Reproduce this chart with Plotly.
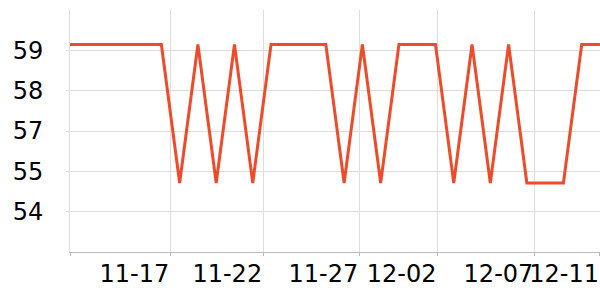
import plotly.graph_objects as go

# Data
dates = [
    "2023-11-12", "2023-11-13", "2023-11-14", "2023-11-15", "2023-11-16",
    "2023-11-17", "2023-11-18", "2023-11-19", "2023-11-20", "2023-11-21",
    "2023-11-22", "2023-11-23", "2023-11-24", "2023-11-25", "2023-11-26",
    "2023-11-27", "2023-11-28", "2023-11-29", "2023-11-30", "2023-12-01",
    "2023-12-02", "2023-12-03", "2023-12-04", "2023-12-05", "2023-12-06",
    "2023-12-07", "2023-12-08", "2023-12-09", "2023-12-10", "2023-12-11",
]
values = [
    59.18, 59.18, 59.18, 59.18, 59.18, 59.18, 54.89, 59.18, 54.89, 59.18,
    54.89, 59.18, 59.18, 59.18, 59.18, 54.89, 59.18, 54.89, 59.18, 59.18,
    59.18, 54.89, 59.18, 54.89, 59.18, 54.89, 54.89, 54.89, 59.18, 59.18,
]

x_tickvals = [
    "2023-11-12 00:00", "2023-11-17 11:46", "2023-11-22 13:41",
    "2023-11-27 19:55", "2023-12-02 02:36", "2023-12-07 09:50",
    "2023-12-11 00:00",
]
x_ticktext = ["", "11-17", "11-22", "11-27", "12-02", "12-07", "12-11"]

y_tickvals = [54, 55.25, 56.5, 57.75, 59]
y_ticktext = ["54", "55", "57", "58", "59"]

fig = go.Figure()
fig.add_trace(go.Scatter(
    x=dates, y=values, mode="lines",
    line=dict(color="#ee4b2b", width=3),
    showlegend=False,
))

fig.update_layout(
    width=600, height=300,
    margin=dict(l=70, r=0, t=10, b=48),
    paper_bgcolor="white", plot_bgcolor="white",
    font=dict(family="DejaVu Sans", size=24, color="black"),
)
fig.update_xaxes(
    type="date",
    range=["2023-11-12", "2023-12-11 00:03"],
    tickmode="array", tickvals=x_tickvals, ticktext=x_ticktext,
    ticklabelposition="outside left", tickangle=0,
    showgrid=True, gridcolor="#dddddd", gridwidth=1,
    showline=True, linecolor="#bbbbbb", linewidth=1,
    ticks="outside", ticklen=3, tickcolor="#bbbbbb",
    zeroline=False,
)
fig.update_yaxes(
    range=[52.75, 60.25],
    tickmode="array", tickvals=y_tickvals, ticktext=y_ticktext,
    showgrid=True, gridcolor="#dddddd", gridwidth=1,
    showline=True, linecolor="#dddddd", linewidth=1,
    ticks="outside", ticklen=3, tickcolor="#dddddd",
    ticklabelstandoff=18,
    zeroline=False,
)

fig.write_html("out.html")
